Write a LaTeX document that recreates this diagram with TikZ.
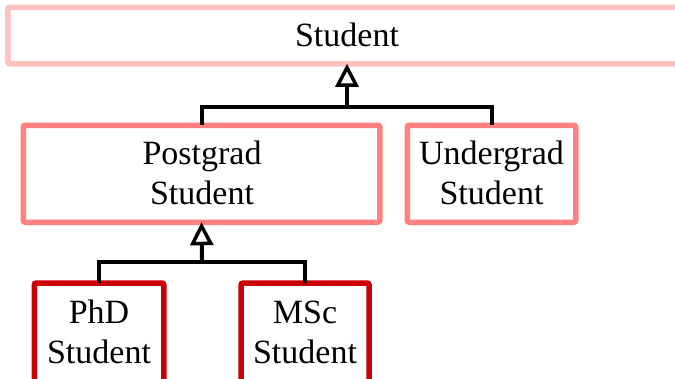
\documentclass[tikz,border=0pt]{standalone}
\usepackage{fontspec}
\setmainfont{Liberation Serif}
\usetikzlibrary{arrows.meta}
\definecolor{lvlA}{HTML}{FFC0C0}
\definecolor{lvlB}{HTML}{FF8080}
\definecolor{lvlC}{HTML}{CC0000}
\tikzset{
  box/.style={draw, line width=5.5pt, rounded corners=2pt, fill=white, inner sep=0pt, outer sep=0pt},
  boxA/.style={box, draw=lvlA},
  boxB/.style={box, draw=lvlB},
  boxC/.style={box, draw=lvlC},
  lbl/.style={align=center, anchor=base, inner sep=0pt, font=\fontsize{34}{40}\selectfont},
  conn/.style={draw=black, line width=4pt},
  inh/.style={conn, -{Triangle[open, length=23pt, width=23pt, line width=3.5pt, fill=white]}}
}
\begin{document}
\begin{tikzpicture}[x=1pt,y=-1pt]
\useasboundingbox (0,0) rectangle (675,378);
\clip (0,0) rectangle (675,378);
\fill[white] (0,0) rectangle (675,378);
% boxes
\node[boxA, minimum width=678.5pt, minimum height=56.5pt] (st) at (347,35.5) {};
\node[boxB, minimum width=356.5pt, minimum height=97pt] (pg) at (201.5,173.75) {};
\node[boxB, minimum width=168.5pt, minimum height=97pt] (ug) at (491.5,173.75) {};
\node[boxC, minimum width=129.5pt, minimum height=150pt] (phd) at (99,358) {};
\node[boxC, minimum width=128pt, minimum height=150pt] (msc) at (305,358) {};
% texts
\node[lbl] (stT) at (347,46) {Student};
\node[lbl] (pgT) at (202,204) {Postgrad\\Student};
\node[lbl] (ugT) at (491.5,204) {Undergrad\\Student};
\node[lbl] (phdT) at (99,363) {PhD\\Student};
\node[lbl] (mscT) at (305,363) {MSc\\Student};
% connectors
\coordinate (j1) at (347,107);
\coordinate (j2) at (202,262);
\draw[conn] (pg.north) |- (j1) -| (ug.north);
\draw[inh] (j1) -- (st.south);
\draw[conn] (phd.north) |- (j2) -| (msc.north);
\draw[inh] (j2) -- (pg.south);
\end{tikzpicture}
\end{document}
